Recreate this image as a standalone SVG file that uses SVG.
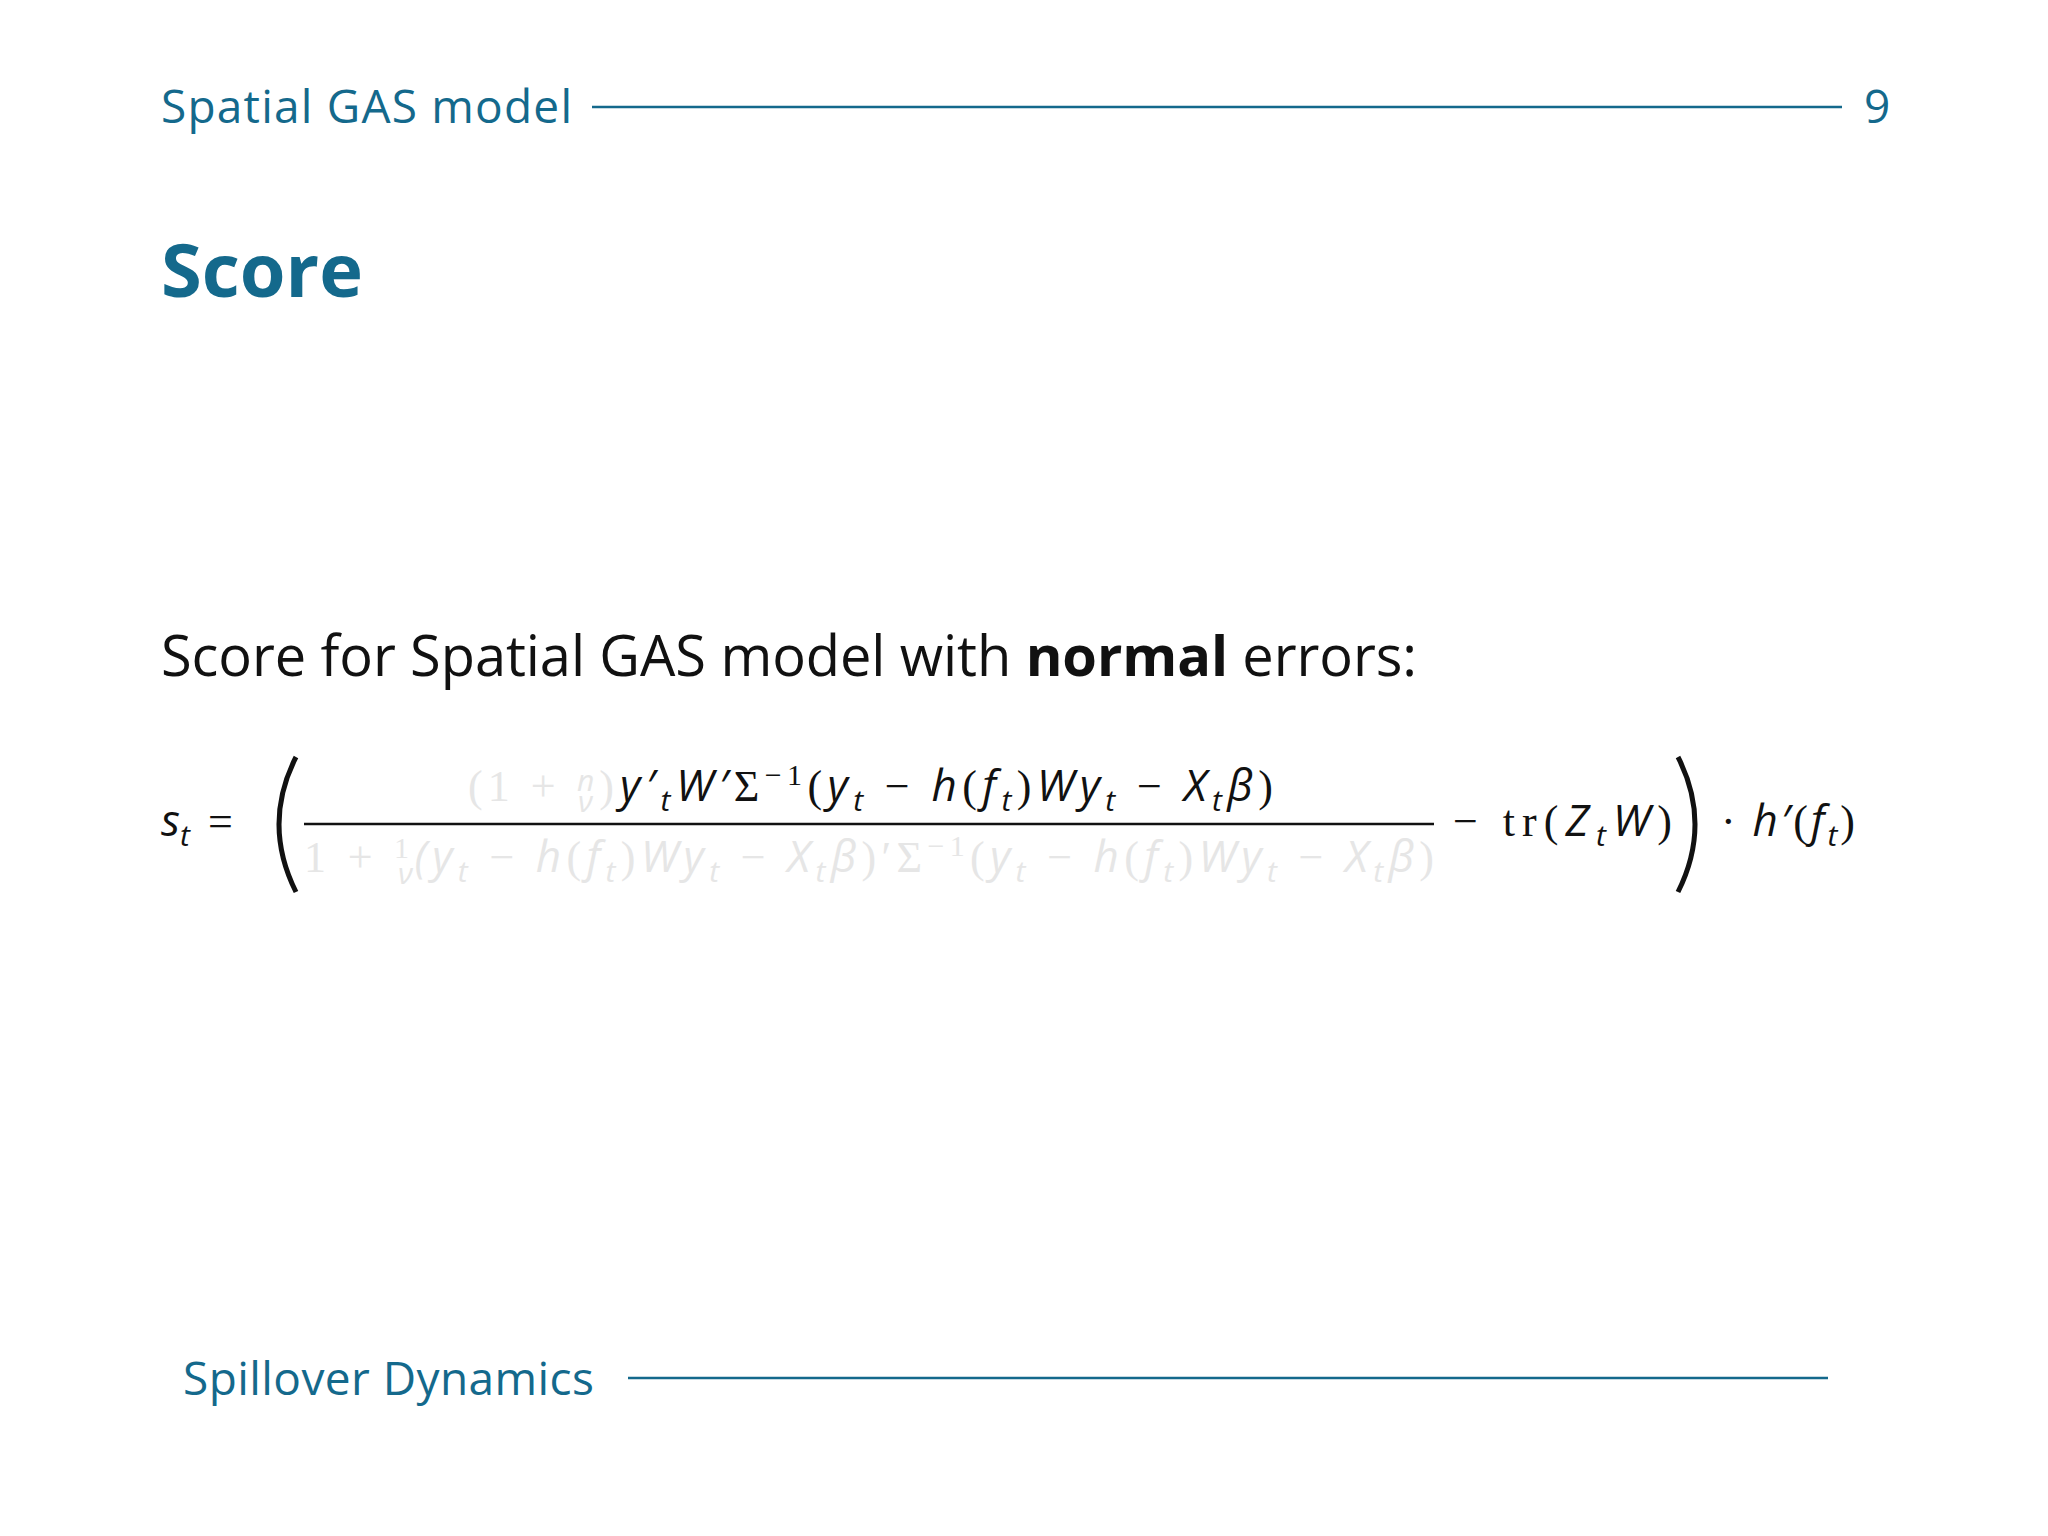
<svg xmlns="http://www.w3.org/2000/svg" width="2048" height="1536" viewBox="0 0 2048 1536">
<style>
.h{font-family:"Open Sans","DejaVu Sans",sans-serif;fill:#14698c}
.b{font-family:"Open Sans","DejaVu Sans",sans-serif;fill:#111}
.m{font-family:"Open Sans","DejaVu Sans",sans-serif;font-style:italic;fill:#111;font-size:44px}
.f{fill:#e6e6e6}
.r{font-family:"Liberation Serif",serif;font-style:normal}
.s{font-size:30px}
</style>
<rect width="2048" height="1536" fill="#fff"/>
<g id="header">
<text class="h" x="161" y="123" font-size="46" textLength="411">Spatial GAS model</text>
<line x1="592" y1="107" x2="1842" y2="107" stroke="#14698c" stroke-width="2.5"/>
<text class="h" x="1864" y="123" font-size="46">9</text>
</g>
<g id="title"><text class="h" x="161" y="297" font-size="74" font-weight="bold">Score</text></g>
<g id="body"><text class="b" x="161" y="676" font-size="56" textLength="1256">Score for Spatial GAS model with <tspan font-weight="bold">normal</tspan> errors:</text></g>
<g id="formula">
<text class="m" x="161" y="836">s<tspan class="s" dy="10">t</tspan><tspan class="r" dy="-10" dx="18">=</tspan></text>
<path d="M296 757 Q262 824 296 892" fill="none" stroke="#111" stroke-width="5"/>
<text class="m f" x="468" y="801" textLength="146"><tspan class="r">(1 +</tspan> <tspan class="s" dy="-10">n</tspan><tspan dy="10" class="r">)</tspan></text>
<text class="m f s" x="578" y="812">ν</text>
<text class="m" x="620" y="801" textLength="653">y′<tspan class="s" dy="10">t</tspan><tspan dy="-10">W′</tspan><tspan class="r">Σ</tspan><tspan class="s r" dy="-16">−1</tspan><tspan class="r" dy="16">(</tspan>y<tspan class="s" dy="10">t</tspan><tspan dy="-10" class="r"> − </tspan>h<tspan class="r">(</tspan>f<tspan class="s" dy="10">t</tspan><tspan dy="-10" class="r">)</tspan>Wy<tspan class="s" dy="10">t</tspan><tspan dy="-10" class="r"> − </tspan>X<tspan class="s" dy="10">t</tspan><tspan dy="-10">β</tspan><tspan class="r">)</tspan></text>
<line x1="304" y1="824" x2="1434" y2="824" stroke="#111" stroke-width="2.5"/>
<text class="m f" x="304" y="872" textLength="1130"><tspan class="r">1 + </tspan><tspan class="s r" dy="-14">1</tspan><tspan dy="14">(y</tspan><tspan class="s" dy="10">t</tspan><tspan dy="-10" class="r"> − </tspan>h<tspan class="r">(</tspan>f<tspan class="s" dy="10">t</tspan><tspan dy="-10" class="r">)</tspan>Wy<tspan class="s" dy="10">t</tspan><tspan dy="-10" class="r"> − </tspan>X<tspan class="s" dy="10">t</tspan><tspan dy="-10">β</tspan><tspan class="r">)′Σ</tspan><tspan class="s r" dy="-16">−1</tspan><tspan class="r" dy="16">(</tspan>y<tspan class="s" dy="10">t</tspan><tspan dy="-10" class="r"> − </tspan>h<tspan class="r">(</tspan>f<tspan class="s" dy="10">t</tspan><tspan dy="-10" class="r">)</tspan>Wy<tspan class="s" dy="10">t</tspan><tspan dy="-10" class="r"> − </tspan>X<tspan class="s" dy="10">t</tspan><tspan dy="-10">β</tspan><tspan class="r">)</tspan></text>
<text class="m f s" x="398" y="884">ν</text>
<text class="m" x="1453" y="836" textLength="219"><tspan class="r">− tr(</tspan>Z<tspan class="s" dy="10">t</tspan><tspan dy="-10">W</tspan><tspan class="r">)</tspan></text>
<path d="M1678 757 Q1712 824 1678 892" fill="none" stroke="#111" stroke-width="5"/>
<text class="m" x="1721" y="836" textLength="134"><tspan class="r">· </tspan>h′<tspan class="r">(</tspan>f<tspan class="s" dy="10">t</tspan><tspan dy="-10" class="r">)</tspan></text>
</g>
<g id="footer">
<text class="h" x="183" y="1395" font-size="46" textLength="411">Spillover Dynamics</text>
<line x1="628" y1="1378" x2="1828" y2="1378" stroke="#14698c" stroke-width="2.5"/>
</g>
</svg>
